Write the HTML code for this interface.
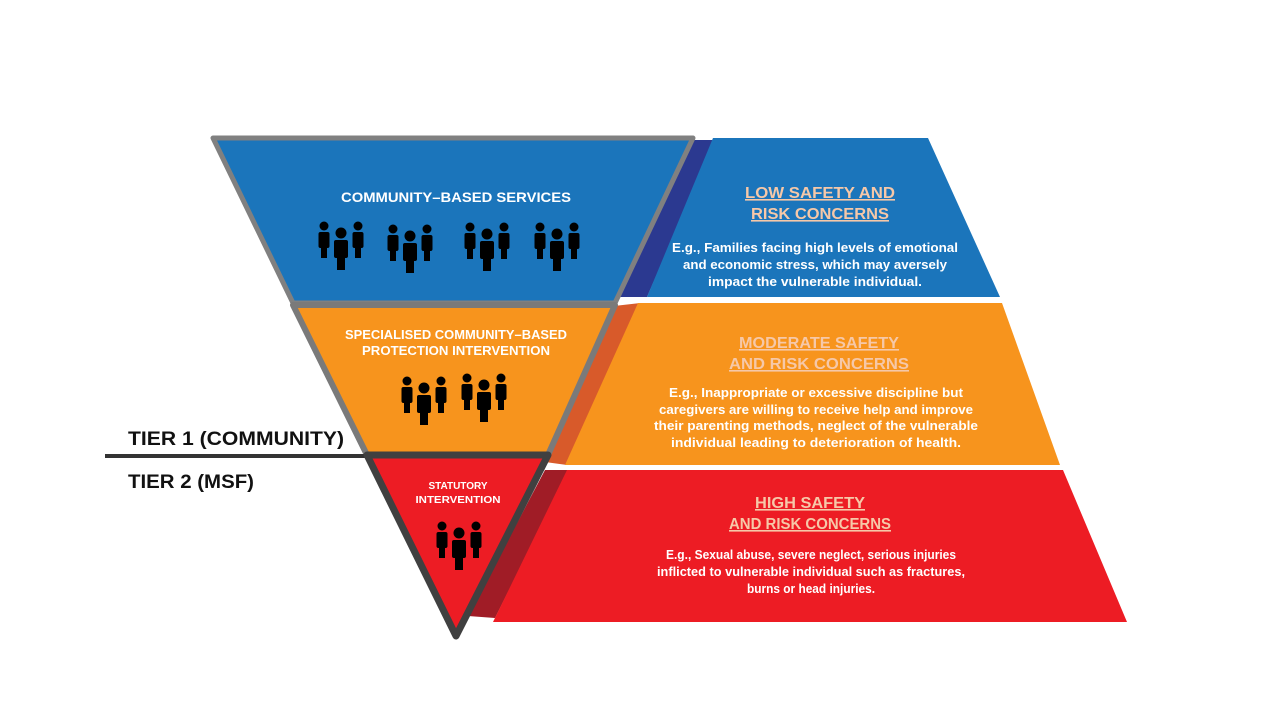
<!DOCTYPE html>
<html><head><meta charset="utf-8"><style>
html,body{margin:0;padding:0;background:#fff;}
svg{display:block;}
text{font-family:"Liberation Sans",sans-serif;font-weight:bold;}
</style></head><body>
<svg width="1280" height="720" viewBox="0 0 1280 720" xmlns="http://www.w3.org/2000/svg">
<defs>
<g id="ppl" fill="#000">
  <circle cx="-17" cy="-19" r="4.5"/><rect x="-22.5" y="-13" width="11" height="16" rx="2"/><rect x="-20" y="2" width="6" height="11"/>
  <circle cx="17" cy="-19" r="4.5"/><rect x="11.5" y="-13" width="11" height="16" rx="2"/><rect x="14" y="2" width="6" height="11"/>
  <circle cx="0" cy="-12" r="5.5"/><rect x="-7" y="-5" width="14" height="18" rx="2"/><rect x="-4" y="12" width="8" height="13"/>
</g>
</defs>
<!-- right panels -->
<polygon points="693,140 715,140 647,297 617,297" fill="#2b3990"/>
<polygon points="713,138 928,138 1000,297 647,297" fill="#1b75bb"/>
<polygon points="614,306 640,303 567,465 545,462" fill="#d85a2a"/>
<polygon points="638,303 1002,303 1060,465 565,465" fill="#f7941d"/>
<polygon points="545,470 569,470 495,618 468,616" fill="#a01c26"/>
<polygon points="567,470 1063,470 1127,622 493,622" fill="#ed1c24"/>
<!-- funnel -->
<polygon points="213,138 693,138 615,303 293,303" fill="#1b75bb" stroke="#808080" stroke-width="5" stroke-linejoin="round"/>
<polygon points="293,305 615,305 548,455 367,455" fill="#f7941d" stroke="#7a7a7a" stroke-width="6" stroke-linejoin="round"/>
<line x1="105" y1="456" x2="370" y2="456" stroke="#333" stroke-width="4"/>
<polygon points="367,455 548,455 456,636" fill="#ed1c24" stroke="#404040" stroke-width="7" stroke-linejoin="round"/>
<!-- funnel text -->
<g fill="#fff" text-anchor="middle">
<text x="456" y="202" font-size="14" textLength="230" lengthAdjust="spacingAndGlyphs">COMMUNITY–BASED SERVICES</text>
<text x="456" y="339" font-size="12.5" textLength="222" lengthAdjust="spacingAndGlyphs">SPECIALISED COMMUNITY–BASED</text>
<text x="456" y="355" font-size="12.5" textLength="188" lengthAdjust="spacingAndGlyphs">PROTECTION INTERVENTION</text>
<text x="458" y="489" font-size="10">STATUTORY</text>
<text x="458" y="503" font-size="10" textLength="85" lengthAdjust="spacingAndGlyphs">INTERVENTION</text>
</g>
<use href="#ppl" x="341" y="245"/><use href="#ppl" x="410" y="248"/><use href="#ppl" x="487" y="246"/><use href="#ppl" x="557" y="246"/>
<use href="#ppl" x="424" y="400"/><use href="#ppl" x="484" y="397"/>
<use href="#ppl" x="459" y="545"/>
<!-- tiers -->
<text x="128" y="445" font-size="19" fill="#111" textLength="216" lengthAdjust="spacingAndGlyphs">TIER 1 (COMMUNITY)</text>
<text x="128" y="488" font-size="19" fill="#111" textLength="126" lengthAdjust="spacingAndGlyphs">TIER 2 (MSF)</text>
<!-- panel text -->
<g text-anchor="middle">
<g fill="#f6c8a8" font-size="16" text-decoration="underline">
<text x="820" y="198" textLength="150" lengthAdjust="spacingAndGlyphs">LOW SAFETY AND</text>
<text x="820" y="219" textLength="138" lengthAdjust="spacingAndGlyphs">RISK CONCERNS</text>
<text x="819" y="348" textLength="160" lengthAdjust="spacingAndGlyphs">MODERATE SAFETY</text>
<text x="819" y="369" textLength="180" lengthAdjust="spacingAndGlyphs">AND RISK CONCERNS</text>
<text x="810" y="508" textLength="110" lengthAdjust="spacingAndGlyphs">HIGH SAFETY</text>
<text x="810" y="529" textLength="162" lengthAdjust="spacingAndGlyphs">AND RISK CONCERNS</text>
</g>
<g fill="#fff" font-size="12.5">
<text x="815" y="252" textLength="286" lengthAdjust="spacingAndGlyphs">E.g., Families facing high levels of emotional</text>
<text x="815" y="269" textLength="264" lengthAdjust="spacingAndGlyphs">and economic stress, which may aversely</text>
<text x="815" y="286" textLength="214" lengthAdjust="spacingAndGlyphs">impact the vulnerable individual.</text>
<text x="816" y="397" textLength="294" lengthAdjust="spacingAndGlyphs">E.g., Inappropriate or excessive discipline but</text>
<text x="816" y="414" textLength="314" lengthAdjust="spacingAndGlyphs">caregivers are willing to receive help and improve</text>
<text x="816" y="430" textLength="324" lengthAdjust="spacingAndGlyphs">their parenting methods, neglect of the vulnerable</text>
<text x="816" y="447" textLength="290" lengthAdjust="spacingAndGlyphs">individual leading to deterioration of health.</text>
<text x="811" y="559" textLength="290" lengthAdjust="spacingAndGlyphs">E.g., Sexual abuse, severe neglect, serious injuries</text>
<text x="811" y="576" textLength="308" lengthAdjust="spacingAndGlyphs">inflicted to vulnerable individual such as fractures,</text>
<text x="811" y="593" textLength="128" lengthAdjust="spacingAndGlyphs">burns or head injuries.</text>
</g>
</g>
</svg>
</body></html>
